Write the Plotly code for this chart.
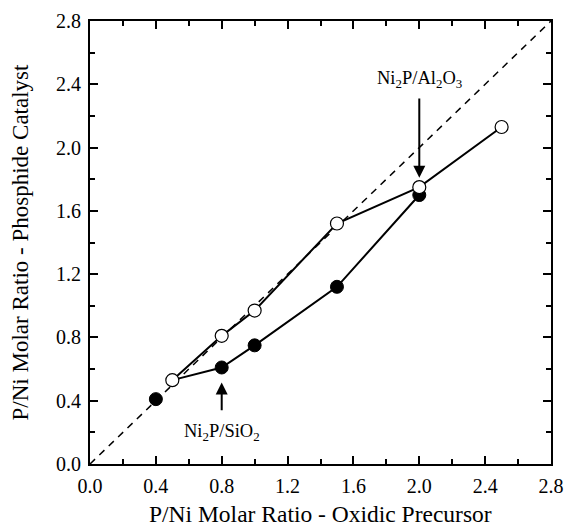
import plotly.graph_objects as go

# Data
sio2_x = [0.4, 0.8, 1.0, 1.5, 2.0]
sio2_y = [0.41, 0.61, 0.75, 1.12, 1.70]
sio2_line_x = [0.5, 0.8, 1.0, 1.5, 2.0]
sio2_line_y = [0.53, 0.61, 0.75, 1.12, 1.70]
al2o3_x = [0.5, 0.8, 1.0, 1.5, 2.0, 2.5]
al2o3_y = [0.53, 0.81, 0.97, 1.52, 1.75, 2.13]
diag_x = [0.0, 2.8]
diag_y = [0.0, 2.8]
tick_vals = [0.0, 0.4, 0.8, 1.2, 1.6, 2.0, 2.4, 2.8]
tick_text = ["0.0", "0.4", "0.8", "1.2", "1.6", "2.0", "2.4", "2.8"]

FONT = "Liberation Serif"

fig = go.Figure()
fig.add_trace(go.Scatter(x=diag_x, y=diag_y, mode="lines",
                         line=dict(color="black", width=1.5, dash="7px,6px"),
                         showlegend=False, hoverinfo="skip"))
fig.add_trace(go.Scatter(x=sio2_line_x, y=sio2_line_y, mode="lines",
                         line=dict(color="black", width=2), showlegend=False))
fig.add_trace(go.Scatter(x=al2o3_x, y=al2o3_y, mode="lines",
                         line=dict(color="black", width=2), showlegend=False))
fig.add_trace(go.Scatter(x=sio2_x, y=sio2_y, mode="markers",
                         marker=dict(size=13, color="black",
                                     line=dict(color="black", width=1)),
                         showlegend=False))
fig.add_trace(go.Scatter(x=al2o3_x, y=al2o3_y, mode="markers",
                         marker=dict(size=13, color="white",
                                     line=dict(color="black", width=1.2)),
                         showlegend=False))

axis_common = dict(
    range=[0, 2.8], tickvals=tick_vals, ticktext=tick_text,
    showline=True, linecolor="black", linewidth=2, mirror="ticks",
    ticks="inside", ticklen=8, tickwidth=2, tickcolor="black",
    minor=dict(dtick=0.2, tick0=0, ticks="inside", ticklen=5, tickwidth=1.5, tickcolor="black"),
    showgrid=False, zeroline=False, automargin=False,
    tickfont=dict(family=FONT, size=20, color="black"),
)

# page body has an 8px margin, so the figure is sized to fit the 578x529 window
fig.update_layout(
    width=570, height=521,
    margin=dict(l=82, r=27, t=13, b=65),
    plot_bgcolor="white", paper_bgcolor="white",
    xaxis=dict(**axis_common, ticklabelstandoff=3),
    yaxis=dict(**axis_common, ticklabelstandoff=3,
               title=dict(text="P/Ni Molar Ratio - Phosphide Catalyst", standoff=27,
                          font=dict(family=FONT, size=23, color="black"))),
    annotations=[
        dict(x=0.5, y=-0.113, xref="paper", yref="paper", xanchor="center", yanchor="middle",
             showarrow=False, text="P/Ni Molar Ratio - Oxidic Precursor",
             font=dict(family=FONT, size=23.5, color="black")),
        dict(x=2.0, y=1.81, ax=2.0, ay=2.32, xref="x", yref="y", axref="x", ayref="y",
             showarrow=True, arrowhead=2, arrowsize=1.2, arrowwidth=2, arrowcolor="black", text=""),
        dict(x=2.0, y=2.43, xref="x", yref="y", showarrow=False,
             text="Ni<sub>2</sub>P/Al<sub>2</sub>O<sub>3</sub>",
             font=dict(family=FONT, size=18.5, color="black")),
        dict(x=0.8, y=0.515, ax=0.8, ay=0.33, xref="x", yref="y", axref="x", ayref="y",
             showarrow=True, arrowhead=2, arrowsize=1.2, arrowwidth=2, arrowcolor="black", text=""),
        dict(x=0.8, y=0.2, xref="x", yref="y", showarrow=False,
             text="Ni<sub>2</sub>P/SiO<sub>2</sub>",
             font=dict(family=FONT, size=18.5, color="black")),
    ],
)

fig.write_html("out.html")
